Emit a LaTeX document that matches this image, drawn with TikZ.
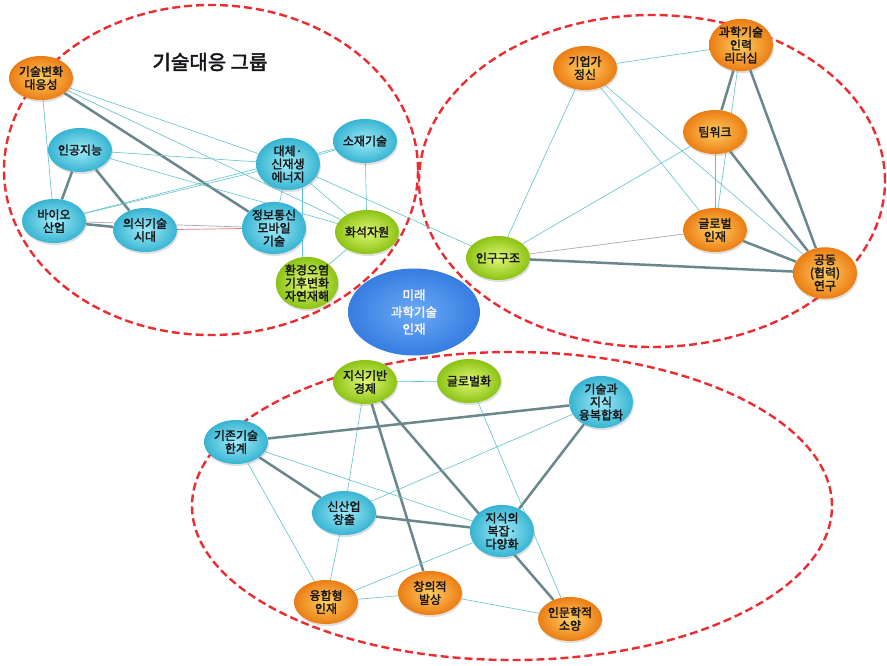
\documentclass[tikz,border=0pt]{standalone}
\usepackage{fontspec}
\newfontfamily\kr{Noto Sans CJK KR}[FakeBold=2]
\newfontfamily\krt{Noto Sans CJK KR}[FakeBold=2.5]
\usetikzlibrary{shapes.geometric,shadows}
\pgfdeclarelayer{ell}\pgfdeclarelayer{edges}
\pgfsetlayers{ell,edges,main}
\definecolor{cyanA}{RGB}{160,235,248}
\definecolor{cyanB}{RGB}{55,180,210}
\definecolor{oraA}{RGB}{255,205,95}
\definecolor{oraB}{RGB}{235,125,20}
\definecolor{grnA}{RGB}{225,248,120}
\definecolor{grnB}{RGB}{140,195,20}
\definecolor{bluA}{RGB}{105,170,245}
\definecolor{bluB}{RGB}{55,125,225}
\definecolor{thinC}{RGB}{95,195,205}
\definecolor{thickC}{RGB}{105,135,140}
\definecolor{redE}{RGB}{235,45,50}
\definecolor{pinkE}{RGB}{235,120,125}
\definecolor{mixE}{RGB}{175,165,180}
\definecolor{txt}{RGB}{20,20,25}
\tikzset{
 nd/.style={ellipse, minimum width=64pt, minimum height=44pt, inner sep=0pt, align=center,
   font=\kr\fontsize{12}{13}\selectfont, text=txt,
   drop shadow={opacity=0.25, shadow xshift=1pt, shadow yshift=-2pt}},
 cynd/.style={nd, inner color=cyanA, outer color=cyanB},
 ornd/.style={nd, inner color=oraA, outer color=oraB},
 grnd/.style={nd, inner color=grnA, outer color=grnB},
 tl/.style={draw=thinC, line width=0.6pt},
 tk/.style={draw=thickC, line width=2.5pt},
 rl/.style={draw=pinkE, line width=0.7pt},
 ml/.style={draw=mixE, line width=0.7pt},
 grp/.style={draw=redE, line width=2.4pt, dash pattern=on 8pt off 4pt},
}
\begin{document}
\begin{tikzpicture}[x=1pt,y=-1pt]
\useasboundingbox (0,0) rectangle (887,666);

% group ellipses
\begin{pgfonlayer}{ell}
\fill[white] (0,0) rectangle (887,666);
\draw[grp] (211,170) ellipse [x radius=207pt, y radius=165pt];
\draw[grp] (652,181) ellipse [x radius=233pt, y radius=166pt];
\draw[grp] (512,506) ellipse [x radius=320pt, y radius=154pt];
\end{pgfonlayer}

\node[font=\krt\fontsize{20}{24}\selectfont, text=txt] (title) at (210,62) {기술대응 그룹};

% top-left group
\node[ornd] (tb) at (41,78) {기술변화\\대응성};
\node[cynd] (ai) at (80,150) {인공지능};
\node[cynd] (bio) at (54,221) {바이오\\산업};
\node[cynd] (con) at (145,230) {의식기술\\시대};
\node[cynd, minimum height=47pt] (ict) at (274,228) {정보통신\\모바일\\기술};
\node[cynd] (ren) at (288,164) {대체·\\신재생\\에너지};
\node[cynd] (mat) at (365,141) {소재기술};
\node[grnd] (fos) at (367,232) {화석자원};
\node[grnd, minimum width=58pt] (env) at (307,283) {환경오염\\기후변화\\자연재해};

% top-right group
\node[ornd] (ent) at (585,68) {기업가\\정신};
\node[ornd] (lead) at (741,45) {과학기술\\인력\\리더십};
\node[ornd] (team) at (715,132) {팀워크};
\node[ornd] (glob) at (715,230) {글로벌\\인재};
\node[grnd] (pop) at (498,258) {인구구조};
\node[ornd] (joint) at (825,273) {공동\\(협력)\\연구};

% bottom group
\node[grnd] (kbe) at (365,382) {지식기반\\경제};
\node[grnd] (glz) at (469,381) {글로벌화};
\node[cynd] (conv) at (601,402) {기술과\\지식\\융복합화};
\node[cynd] (lim) at (236,442) {기존기술\\한계};
\node[cynd] (newi) at (344,513) {신산업\\창출};
\node[cynd] (cplx) at (502,531) {지식의\\복잡·\\다양화};
\node[ornd] (fus) at (326,602) {융합형\\인재};
\node[ornd] (cre) at (430,593) {창의적\\발상};
\node[ornd] (hum) at (570,619) {인문학적\\소양};

% center
\node[ellipse, minimum width=132pt, minimum height=87pt, inner sep=0pt, align=center,
  inner color=bluA, outer color=bluB, text=white!88!pink,
  font=\kr\fontsize{12.5}{17}\selectfont] (core) at (414,312) {미래\\과학기술\\인재};

\begin{pgfonlayer}{edges}
% top-left
\draw[tk] (tb) -- (ict);
\draw[tk] (ai) -- (con);
\draw[tk] (ai) -- (bio);
\draw[tk] (bio) -- (con);
\draw[tl] (tb) -- (bio);
\draw[tl] (tb) -- (ren);
\draw[tl] (tb) -- (fos);
\draw[tl] (ai) -- (ren);
\draw[tl] (ai) -- (fos);
\draw[tl] (bio) -- (mat);
\draw[tl] (bio) -- (ren);
\draw[ml] (bio) -- (ict);
\draw[rl] (con) -- (ict);
\draw[tl] (ren) -- (mat);
\draw[tl] (ren) -- (ict);
\draw[tl] (ren) -- (fos);
\draw[tl] (ren.south east) ++(-8,0) coordinate (rs) -- (rs |- env.north);
\draw[tl] (ren) -- (pop);
\draw[tl] (mat) -- (fos);
\draw[tl] (fos) -- (env);
% top-right
\draw[tl] (ent) -- (lead);
\draw[tl] (ent) -- (pop);
\draw[tl] (ent) -- (glob);
\draw[tl] (ent) -- (joint);
\draw[tk] (lead) -- (team);
\draw[tk] (lead) -- (joint);
\draw[tl] (lead) -- (glob);
\draw[tk] (team) -- (joint);
\draw[tl] (team) -- (glob);
\draw[tl] (team) -- (pop);
\draw[tk] (glob) -- (joint);
\draw[ml] (glob) -- (pop);
\draw[tk] (pop) -- (joint);
% bottom
\draw[tl] (kbe) -- (glz);
\draw[tl] (kbe) -- (newi);
\draw[tk] (kbe) -- (cre);
\draw[tk] (kbe) -- (hum);
\draw[tl] (glz) -- (hum);
\draw[tk] (conv) -- (lim);
\draw[tk] (conv) -- (cplx);
\draw[tl] (conv) -- (newi);
\draw[tk] (lim) -- (newi);
\draw[tl] (lim) -- (cplx);
\draw[tl] (lim) -- (fus);
\draw[tk] (newi) -- (cplx);
\draw[tl] (newi) -- (fus);
\draw[tl] (cplx) -- (fus);
\draw[tl] (fus) -- (cre);
\draw[tl] (cre) -- (hum);
\end{pgfonlayer}
\end{tikzpicture}
\end{document}
